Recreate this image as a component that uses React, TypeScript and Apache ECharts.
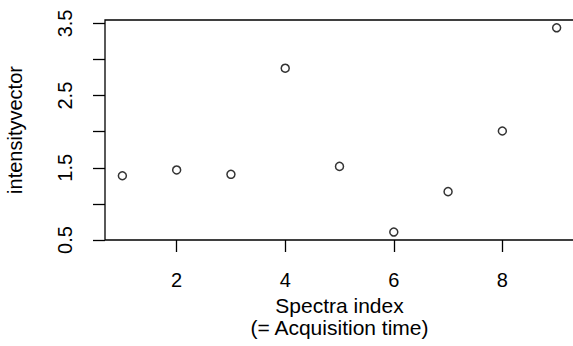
import React, { useEffect, useRef } from "react";
import * as echarts from "echarts";

const spectraIndex = [1, 2, 3, 4, 5, 6, 7, 8, 9];
const intensity = [1.39, 1.47, 1.41, 2.88, 1.52, 0.61, 1.17, 2.01, 3.44];
const xTicks = [2, 4, 6, 8];
const yTicks = [0.5, 1, 1.5, 2, 2.5, 3, 3.5];
const yLabels = [0.5, 1.5, 2.5, 3.5];

const FONT = "'Liberation Sans', Arial, Helvetica, sans-serif";

export default function App() {
  const ref = useRef<HTMLDivElement>(null);
  useEffect(() => {
    if (!ref.current) return;
    const chart = echarts.init(ref.current, undefined, { renderer: "svg" });
    chart.setOption({
      animation: false,
      backgroundColor: "#ffffff",
      grid: {
        left: 105,
        top: 20,
        right: -1,
        bottom: 106,
        containLabel: false,
        outerBoundsMode: "none",
        show: true,
        borderColor: "#000",
        borderWidth: 1.3,
        backgroundColor: "transparent",
      },
      xAxis: {
        type: "value",
        min: 0.68,
        max: 9.32,
        name: "Spectra index\n(= Acquisition time)",
        nameLocation: "middle",
        nameGap: 50,
        nameTextStyle: { fontFamily: FONT, fontSize: 21, color: "#000", lineHeight: 22, verticalAlign: "top" },
        axisLine: { show: false },
        splitLine: { show: false },
        axisTick: { show: true, length: 12, customValues: xTicks, lineStyle: { color: "#000", width: 1.3 } },
        axisLabel: { customValues: xTicks, margin: 30, fontFamily: FONT, fontSize: 20, color: "#000" },
      },
      yAxis: {
        type: "value",
        min: 0.5,
        max: 3.548,
        name: "intensityvector",
        nameLocation: "middle",
        nameGap: 80,
        nameRotate: 90,
        nameTextStyle: { fontFamily: FONT, fontSize: 20, color: "#000" },
        axisLine: { show: false },
        splitLine: { show: false },
        axisTick: { show: true, length: 12, customValues: yTicks, lineStyle: { color: "#000", width: 1.3 } },
        axisLabel: {
          customValues: yLabels,
          rotate: 90,
          margin: 30,
          fontFamily: FONT,
          fontSize: 20,
          color: "#000",
          formatter: (v: number) => v.toFixed(1),
        },
      },
      series: [
        {
          type: "scatter",
          data: spectraIndex.map((x, i) => [x, intensity[i]]),
          symbol: "circle",
          symbolSize: 8,
          itemStyle: { color: "transparent", borderColor: "#000", borderWidth: 1.5 },
        },
      ],
    });
    return () => chart.dispose();
  }, []);
  return <div ref={ref} style={{ position: "fixed", left: 0, top: 0, width: 573, height: 346 }} />;
}
